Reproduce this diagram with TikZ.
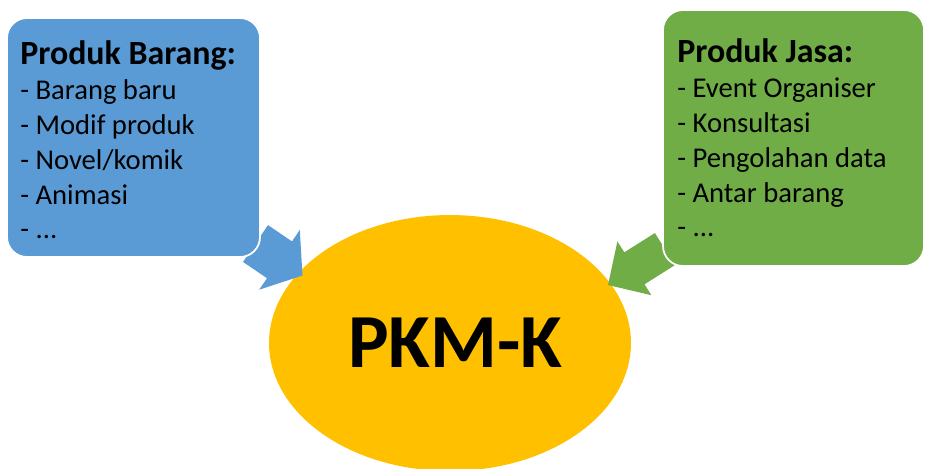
\documentclass[tikz,border=0pt]{standalone}
\usepackage{fontspec}
\setmainfont{Carlito}
\usetikzlibrary{shapes.geometric}

\definecolor{boxblue}{HTML}{5B9BD5}
\definecolor{boxgreen}{HTML}{70AD47}
\definecolor{pkmyellow}{HTML}{FFC000}

\newcommand{\listtitle}[1]{{\fontsize{19.3}{19.9}\selectfont\bfseries #1}}

\tikzset{
  listbox/.style={draw=white, line width=1pt, rounded corners=0.4cm},
  listtext/.style={anchor=north west, inner sep=0pt, align=left,
    font=\fontsize{16.3}{19.9}\selectfont},
}

\begin{document}
\begin{tikzpicture}[x=0.02cm, y=-0.02cm]
		\useasboundingbox (0,0) rectangle (926,468);

		% center
		\node[ellipse, fill=pkmyellow, minimum width=7.24cm, minimum height=5.12cm,
		      inner sep=0pt, font=\fontsize{43.5}{50}\selectfont\bfseries] (pkmk) at (450,343) {\hspace*{6pt}PKM-K};

		% arrows
		\fill[boxblue] (268,225.1) -- (292,241.4) -- (299.8,229.9) -- (302.5,275.5)
		  -- (259.2,289.7) -- (267,278.2) -- (243,261.9) -- cycle;
		\fill[boxgreen] (654.9,233.0) -- (624.3,252.3) -- (617.4,241.4) -- (608,285)
		  -- (651.4,295.2) -- (644.5,284.3) -- (675.1,265.0) -- cycle;

		% boxes
		\draw[listbox, fill=boxblue] (7,18) rectangle (260,257);
		\draw[listbox, fill=boxgreen] (663,10) rectangle (924,266);

		\node[listtext] (barang) at (20,40) {\listtitle{Produk Barang:}\\- Barang baru\\- Modif produk\\- Novel/komik\\- Animasi\\- ...};
		\node[listtext] (jasa) at (677,38) {\listtitle{Produk Jasa:}\\- Event Organiser\\- Konsultasi\\- Pengolahan data\\- Antar barang\\- ...};

	\end{tikzpicture}
\end{document}
